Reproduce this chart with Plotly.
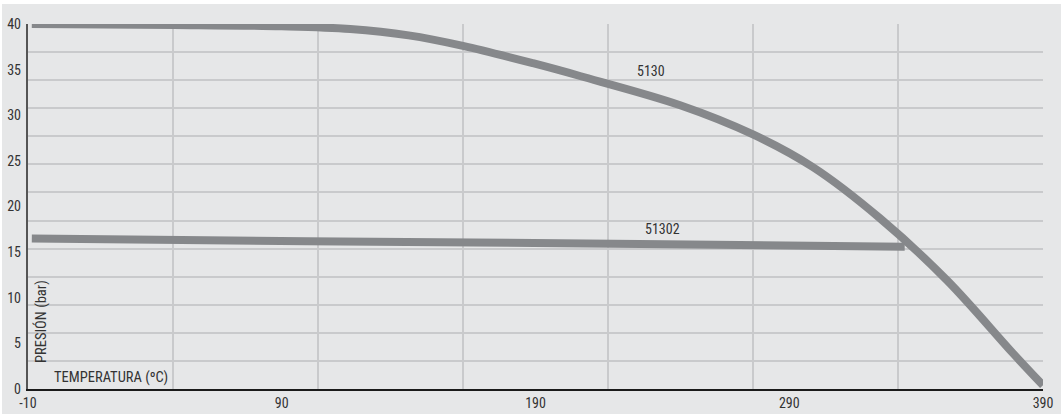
import plotly.graph_objects as go

# --- data ---
temp_5130 = [-8.5, 47.5, 90.0, 117.0, 140.0, 161.4, 189.0, 207.5, 247.0, 275.7, 299.4, 325.8, 352.2, 378.2, 390.0]
pres_5130 = [40.0, 39.9, 39.75, 39.45, 38.75, 37.6, 35.7, 34.3, 31.1, 27.9, 24.3, 18.7, 11.9, 3.9, 0.4]

temp_51302 = [-8.5, 100.0, 231.0, 335.5]
pres_51302 = [16.5, 16.2, 15.9, 15.6]

x_ticks = [-10, 90, 190, 290, 390]
x_tick_text = ["-10", "90", "190", "290", "390"]
y_ticks = [0, 5, 10, 15, 20, 25, 30, 35, 40]
x_grid = [round(-10 + k * 400 / 7, 6) for k in range(1, 8)]
y_grid = [round(k * 40 / 13, 6) for k in range(1, 14)]

labels = ["5130", "51302"]
label_x = [235.5, 239.9]
label_y = [34.85, 17.5]

LINE = "#86888b"
BG = "#e6e7e8"
GRID = "#c9cacc"
TXT = "#333333"
FONT = "Roboto Condensed, Noto Sans Condensed, DejaVu Sans Condensed, Liberation Sans Narrow, Roboto, sans-serif"

fig = go.Figure()
fig.add_trace(go.Scatter(x=temp_5130, y=pres_5130, mode="lines",
                         line=dict(color=LINE, width=8, shape="spline", smoothing=1.0),
                         hoverinfo="skip", showlegend=False))
fig.add_trace(go.Scatter(x=temp_51302, y=pres_51302, mode="lines",
                         line=dict(color=LINE, width=8, shape="spline", smoothing=0.6),
                         hoverinfo="skip", showlegend=False))
# dummy trace for overlay (label) axes
fig.add_trace(go.Scatter(x=[None], y=[None], xaxis="x2", yaxis="y2",
                         mode="markers", showlegend=False, hoverinfo="skip"))

for t, x, y in zip(labels, label_x, label_y):
    fig.add_annotation(x=x, y=y, text=t, showarrow=False,
                       font=dict(size=14, color=TXT, family=FONT),
                       xanchor="center", yanchor="middle")

fig.add_annotation(x=-0.5, y=1.3, text="TEMPERATURA (ºC)", showarrow=False,
                   font=dict(size=14.5, color=TXT, family=FONT),
                   xanchor="left", yanchor="middle")
fig.add_annotation(x=-4.9, y=7.45, text="PRESIÓN (bar)", showarrow=False, textangle=-90,
                   font=dict(size=14.5, color=TXT, family=FONT),
                   xanchor="center", yanchor="middle")

fig.update_layout(
    width=1063, height=417,
    margin=dict(l=28, r=20, t=24, b=28),
    paper_bgcolor="white",
    plot_bgcolor=BG,
    font=dict(family=FONT, size=14, color=TXT),
    xaxis=dict(range=[-10, 390], tickmode="array", tickvals=x_grid, showticklabels=False,
               showgrid=True, gridcolor=GRID, gridwidth=1.5, zeroline=False, automargin=False,
               showline=True, linecolor="#1a1a1a", linewidth=1.5, ticks=""),
    yaxis=dict(range=[0, 40], tickmode="array", tickvals=y_grid, showticklabels=False,
               showgrid=True, gridcolor=GRID, gridwidth=1.5, zeroline=False, automargin=False,
               showline=True, linecolor="#555555", linewidth=1.5, ticks=""),
    xaxis2=dict(range=[-10, 390], overlaying="x", side="bottom", anchor="y2",
                tickmode="array", tickvals=x_ticks, ticktext=x_tick_text,
                showgrid=False, zeroline=False, automargin=False,
                showline=False, ticks="", ticklabelstandoff=4,
                tickfont=dict(size=14, color=TXT, family=FONT)),
    yaxis2=dict(range=[0, 40], overlaying="y", side="left", anchor="x2",
                tickmode="array", tickvals=y_ticks, showgrid=False, zeroline=False,
                automargin=False, showline=False, ticks="", ticklabelstandoff=6,
                tickfont=dict(size=14, color=TXT, family=FONT)),
    shapes=[dict(type="rect", xref="paper", yref="paper", x0=-0.0256, x1=1.0177,
                 y0=-0.0685, y1=1.0548, fillcolor=BG, line=dict(width=0), layer="below")],
)

fig.write_html("out.html", config={"displayModeBar": False},
               post_script="document.body.style.margin='0';document.body.style.overflow='hidden';")
